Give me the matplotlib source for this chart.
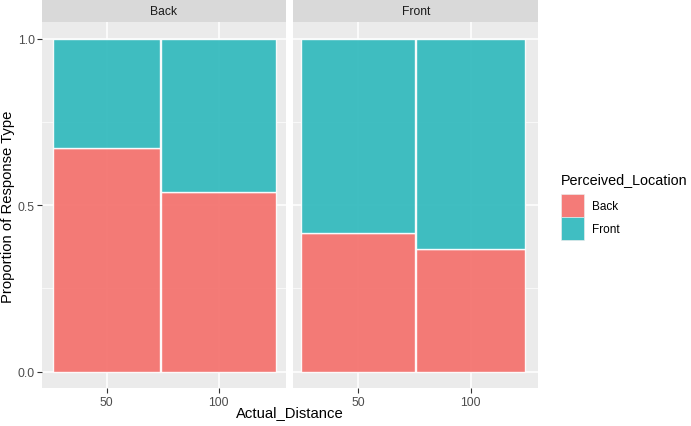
import matplotlib.pyplot as plt
from matplotlib.patches import Patch

plt.rcParams['font.family'] = ['Liberation Sans', 'DejaVu Sans']

# facet panels and x categories
facets = ["Back", "Front"]
distance_labels = ["50", "100"]
location_levels = ["Back", "Front"]

# proportion of each perceived location, per actual distance (50, 100)
back_facet_back = [0.671, 0.540]
back_facet_front = [0.329, 0.460]
front_facet_back = [0.418, 0.370]
front_facet_front = [0.582, 0.630]

# bar widths differ a little (proportional to group size)
back_facet_width = [0.956, 1.033]
front_facet_width = [1.008, 0.967]

panel_data = {
    "Back": (back_facet_back, back_facet_front, back_facet_width),
    "Front": (front_facet_back, front_facet_front, front_facet_width),
}

colors = {"Back": "#F4706C", "Front": "#30B9BD"}
bar_alpha = 0.92
bg = "#EBEBEB"

fig = plt.figure(figsize=(6.91, 4.27), dpi=100)

panel_pos = [(0.0612, 0.3522), (0.4245, 0.3546)]
bottom, height = 0.0883, 0.857

for i, facet in enumerate(facets):
    left, width = panel_pos[i]
    ax = fig.add_axes([left, bottom, width, height])
    back_vals, front_vals, widths = panel_data[facet]
    x = list(range(1, len(distance_labels) + 1))

    ax.set_facecolor(bg)
    ax.set_axisbelow(True)
    ax.grid(True, which='major', color='white', linewidth=1.1)
    ax.set_yticks([0.25, 0.75], minor=True)
    ax.grid(True, which='minor', axis='y', color='white', linewidth=0.5)

    ax.bar(x, back_vals, width=widths, color=colors["Back"], alpha=bar_alpha,
           edgecolor='white', linewidth=1.0)
    ax.bar(x, front_vals, width=widths, bottom=back_vals, color=colors["Front"],
           alpha=bar_alpha, edgecolor='white', linewidth=1.0)

    ax.set_xlim(0.425, 2.6)
    ax.set_ylim(-0.05, 1.05)
    ax.set_xticks(x)
    ax.set_xticklabels(distance_labels)
    ax.set_yticks([0.0, 0.5, 1.0])
    ax.set_yticklabels(["0.0", "0.5", "1.0"])
    ax.tick_params(which='major', length=3.5, width=0.8, color='#333333',
                   labelcolor='#4D4D4D', labelsize=8.8, pad=2)
    ax.tick_params(which='minor', length=0)
    if i > 0:
        ax.tick_params(axis='y', which='major', length=0, labelleft=False)
    for s in ax.spines.values():
        s.set_visible(False)

    # facet strip
    sax = fig.add_axes([left, bottom + height, width, 0.052])
    sax.set_facecolor('#D9D9D9')
    sax.set_xticks([])
    sax.set_yticks([])
    for s in sax.spines.values():
        s.set_visible(False)
    sax.text(0.5, 0.5, facet, ha='center', va='center', fontsize=8.7,
             color='#1A1A1A', transform=sax.transAxes)

fig.text(0.0115, bottom + height / 2, "Proportion of Response Type", rotation=90,
         ha='center', va='center', fontsize=10.7, color='black')
fig.text(0.419, 0.033, "Actual_Distance", ha='center', va='center',
         fontsize=10.7, color='black')

# legend: title drawn on its own so it sits a bit above the keys
fig.text(0.8115, 0.578, "Perceived_Location", ha='left', va='center',
         fontsize=10.4, color='black')
handles = [Patch(facecolor=colors[k], alpha=bar_alpha, edgecolor='#EBEBEB',
                 linewidth=0.5) for k in location_levels]
fig.legend(handles=handles, labels=location_levels,
           loc='upper left', bbox_to_anchor=(0.803, 0.557), frameon=False,
           borderpad=0, handlelength=1.953, handleheight=2.63, labelspacing=0,
           handletextpad=0.7, fontsize=8.5)

fig.savefig("out.png", dpi=100)
